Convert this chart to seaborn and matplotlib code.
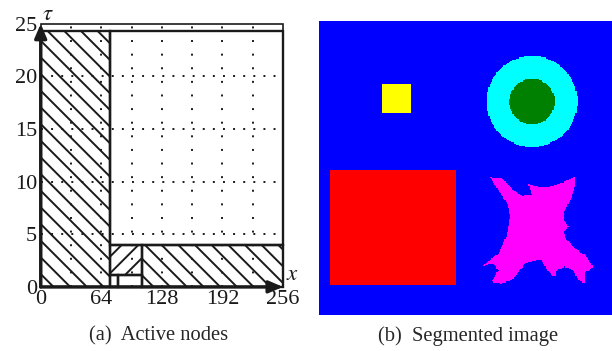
import numpy as np
import matplotlib
matplotlib.use('Agg')
import matplotlib.pyplot as plt
from matplotlib.colors import ListedColormap
from matplotlib.patches import Rectangle
from matplotlib.path import Path
import seaborn as sns

# ---------------- data: (a) active nodes ----------------
x_ticks = [0, 64, 128, 192, 256]
y_ticks = [0, 5, 10, 15, 20, 25]
grid_x = [32, 64, 96, 128, 160, 192, 224]
grid_y = [5, 10, 15, 20]
region_x0 = [0, 106.5, 73, 73, 81.8, 73]
region_x1 = [73, 256, 106.5, 81.8, 106.5, 256]
region_y0 = [0, 0, 1.1, 0, 0, 4]
region_y1 = [24.3, 4, 4, 1.1, 1.1, 24.3]
region_hatch = ['\\\\', '\\\\', '//', '', '', '']
x_max = 256
tau_max = 25

# ---------------- data: (b) segmented image ----------------
img_size = 256
yellow_box = [55, 80, 55, 80]          # u0, u1, v0, v1
red_box = [9.6, 120.3, 130, 230.2]
ring_center = [186.1, 70.4]
ring_radii = [39.6, 19.8]              # cyan outer, green inner
star_u = [149.4, 159.6, 168.4, 177.1, 185.9, 182.9, 191.6, 201.9, 215.0, 223.7,
          223.7, 220.7, 216.4, 213.5, 214.4, 217.9, 213.5, 216.4, 223.7, 232.4,
          239.7, 236.7, 232.4, 232.4, 226.6, 222.2, 215.0, 207.6, 206.2, 199.0,
          194.6, 190.2, 180.0, 175.6, 168.4, 159.6, 150.9, 156.7, 152.3, 142.2,
          150.9, 156.7, 161.0, 164.0, 165.4, 166.9, 165.4, 162.5, 156.7]
star_v = [136.4, 137.3, 146.0, 152.7, 151.8, 142.3, 144.6, 144.6, 140.2, 135.9,
          144.6, 153.3, 162.0, 167.8, 173.7, 179.4, 183.8, 191.0, 198.3, 204.1,
          214.3, 217.2, 218.6, 228.7, 225.9, 217.2, 214.3, 217.2, 223.0, 217.2,
          208.4, 208.4, 211.3, 217.2, 225.9, 228.7, 227.4, 217.2, 211.3, 214.3,
          207.0, 202.7, 193.9, 186.7, 179.4, 170.7, 162.0, 156.2, 147.5]
seg_colors = ['#0000ff', '#ffff00', '#00ffff', '#008000', '#ff0000', '#ff00ff']

captions = ['(a)  Active nodes', '(b)  Segmented image']

# ---------------- style ----------------
sns.set_theme(style='white')
plt.rcParams['font.family'] = ['Liberation Serif', 'DejaVu Serif']
plt.rcParams['mathtext.fontset'] = 'stix'
plt.rcParams['hatch.color'] = 'black'
plt.rcParams['hatch.linewidth'] = 1.4

W, H = 612, 351
fig = plt.figure(figsize=(W / 100, H / 100), dpi=100)

# ---------------- (a) ----------------
ax1 = fig.add_axes([40.7 / W, (H - 286.9) / H, (283 - 40.7) / W, (286.9 - 23.8) / H])
ax1.set_xlim(0, x_max)
ax1.set_ylim(0, tau_max)
for s in ax1.spines.values():
    s.set_visible(False)
ax1.set_facecolor('white')

for gx in grid_x:
    ax1.plot([gx, gx], [0, tau_max], color='k', lw=1.4, ls=(0, (1, 6)), zorder=1)
for gy in grid_y:
    ax1.plot([0, x_max], [gy, gy], color='k', lw=1.4, ls=(0, (1, 4.2)), zorder=1)

ax1.add_patch(Rectangle((0, 0), x_max, tau_max, fill=False, lw=1.2,
                        edgecolor='k', clip_on=False, zorder=2))
for x0, x1, y0, y1, h in zip(region_x0, region_x1, region_y0, region_y1, region_hatch):
    ax1.add_patch(Rectangle((x0, y0), x1 - x0, y1 - y0, fill=False, hatch=h,
                            lw=1.7, edgecolor='k', clip_on=False, zorder=3))

arrow = dict(arrowstyle='-|>,head_length=0.7,head_width=0.3', lw=2.4, color='k',
             shrinkA=0, shrinkB=0)
ax1.annotate('', xy=(0, tau_max), xytext=(0, 0), arrowprops=arrow,
             annotation_clip=False, zorder=5)
ax1.annotate('', xy=(x_max, 0), xytext=(0, 0), arrowprops=arrow,
             annotation_clip=False, zorder=5)

ax1.set_xticks(x_ticks)
ax1.set_xticklabels([str(v) for v in x_ticks])
ax1.set_yticks(y_ticks)
ax1.set_yticklabels([str(v) for v in y_ticks])
ax1.tick_params(axis='both', length=0, labelsize=16, colors='k')
ax1.tick_params(axis='x', pad=2.2)
ax1.tick_params(axis='y', pad=2.5)
ax1.grid(False)

ax1.text(1.5, 24.9, r'$\tau$', ha='left', va='bottom', fontsize=16.5, color='k')
ax1.text(259, 0.2, r'$x$', ha='left', va='bottom', fontsize=16.5, color='k')

# ---------------- (b) ----------------
uu, vv = np.meshgrid(np.arange(img_size) + 0.5, np.arange(img_size) + 0.5)
labels = np.zeros((img_size, img_size), dtype=int)
labels[(uu >= yellow_box[0]) & (uu < yellow_box[1]) &
       (vv >= yellow_box[2]) & (vv < yellow_box[3])] = 1
rr = np.hypot(uu - ring_center[0], vv - ring_center[1])
labels[rr <= ring_radii[0]] = 2
labels[rr <= ring_radii[1]] = 3
labels[(uu >= red_box[0]) & (uu < red_box[1]) &
       (vv >= red_box[2]) & (vv < red_box[3])] = 4
star_path = Path(np.column_stack([star_u, star_v]))
inside = star_path.contains_points(np.column_stack([uu.ravel(), vv.ravel()]))
labels[inside.reshape(labels.shape)] = 5

ax2 = fig.add_axes([319 / W, (H - 314.7) / H, (612 - 319) / W, (314.7 - 20.7) / H])
sns.heatmap(labels, ax=ax2, cmap=ListedColormap(seg_colors), vmin=-0.5, vmax=5.5,
            cbar=False, xticklabels=False, yticklabels=False, rasterized=True)
ax2.set_xlabel('')
ax2.set_ylabel('')

fig.text(159 / W, 1 - 336 / H, captions[0], ha='center', va='center', fontsize=14.8)
fig.text(468 / W, 1 - 336 / H, captions[1], ha='center', va='center', fontsize=14.8)

fig.savefig('out.png', dpi=100)
